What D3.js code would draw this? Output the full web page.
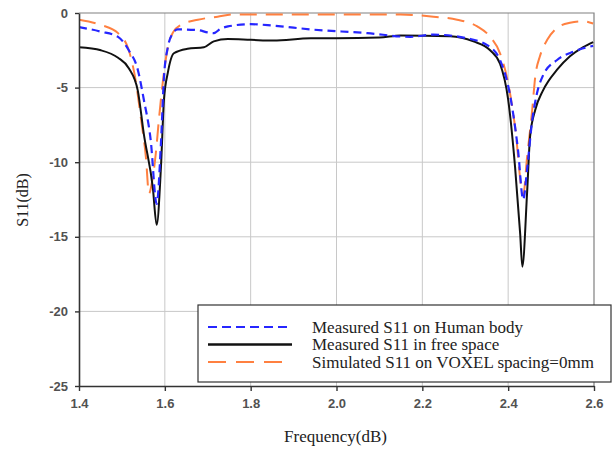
<!DOCTYPE html>
<html><head><meta charset="utf-8">
<script src="https://cdn.jsdelivr.net/npm/d3@7"></script>
<style>
html,body{margin:0;padding:0;background:#fff;}
svg{display:block;}
</style></head>
<body>
<svg id="chart" width="615" height="451"></svg>
<script>
// ---- data ----
const seriesNames = ["Measured S11 on Human body", "Measured S11 in free space", "Simulated S11 on VOXEL spacing=0mm"];
const humanFreq = [1.400,1.451,1.491,1.516,1.537,1.551,1.567,1.581,1.591,1.598,1.607,1.619,1.630,1.677,1.700,1.714,1.730,1.747,1.800,1.853,1.940,2.072,2.172,2.226,2.305,2.351,2.381,2.405,2.423,2.435,2.444,2.456,2.467,2.481,2.514,2.551,2.598];
const humanS11 = [-0.95,-1.25,-1.6,-2.5,-3.8,-5.8,-8.5,-12.8,-8.7,-4.3,-2.3,-1.35,-1.1,-1.15,-1.3,-1.35,-1.05,-0.9,-0.75,-0.85,-1.1,-1.35,-1.6,-1.45,-1.7,-2.15,-3.15,-5.6,-9.2,-12.5,-10.5,-7.2,-5.4,-4.2,-3.15,-2.6,-2.2];
const freeFreq = [1.400,1.451,1.491,1.516,1.537,1.551,1.572,1.581,1.591,1.598,1.607,1.621,1.653,1.691,1.714,1.747,1.800,1.853,1.940,2.000,2.100,2.149,2.265,2.319,2.358,2.381,2.400,2.416,2.428,2.433,2.444,2.451,2.463,2.481,2.514,2.544,2.574,2.598];
const freeS11 = [-2.3,-2.5,-3.0,-3.7,-5.2,-8.1,-11.7,-14.2,-10.3,-5.8,-4.0,-2.7,-2.4,-2.3,-1.9,-1.75,-1.8,-1.85,-1.7,-1.7,-1.65,-1.5,-1.55,-1.9,-2.5,-3.4,-5.8,-10.3,-14.8,-17.0,-12.1,-8.3,-6.5,-5.2,-3.8,-2.9,-2.3,-1.95];
const simFreq = [1.400,1.451,1.491,1.516,1.533,1.544,1.556,1.563,1.572,1.579,1.586,1.595,1.607,1.619,1.637,1.677,1.723,1.760,1.916,2.149,2.226,2.281,2.328,2.358,2.381,2.400,2.416,2.435,2.444,2.456,2.463,2.474,2.491,2.514,2.544,2.574,2.598];
const simS11 = [-0.45,-0.8,-1.35,-2.5,-4.7,-7.0,-9.7,-12.1,-11.0,-9.4,-7.2,-4.7,-2.3,-1.3,-0.8,-0.45,-0.25,-0.1,-0.1,-0.1,-0.25,-0.45,-0.9,-1.6,-2.7,-4.7,-7.6,-12.2,-9.7,-6.5,-4.3,-2.9,-1.8,-1.0,-0.65,-0.55,-0.7];
const xTicks = [1.4,1.6,1.8,2.0,2.2,2.4,2.6];
const xTickLabels = ["1.4","1.6","1.8","2.0","2.2","2.4","2.6"];
const yTicks = [0,-5,-10,-15,-20,-25];
const yTickLabels = ["0","-5","-10","-15","-20","-25"];
const xTitle = "Frequency(dB)";
const yTitle = "S11(dB)";

// ---- layout ----
const L = 79, R = 594, T = 13, B = 386;
const svg = d3.select("#chart");
const x = d3.scaleLinear().domain([1.4, 2.6]).range([L, R]);
const y = d3.scaleLinear().domain([-25, 0]).range([B, T]);

// grid
const grid = svg.append("g");
grid.selectAll("line.v").data(xTicks.slice(1, -1)).join("line")
  .attr("x1", d => x(d)).attr("x2", d => x(d)).attr("y1", T).attr("y2", B)
  .attr("stroke", "#c8c8c8").attr("stroke-width", 1);
grid.selectAll("line.h").data(yTicks.slice(1, -1)).join("line")
  .attr("x1", L).attr("x2", R).attr("y1", d => y(d)).attr("y2", d => y(d))
  .attr("stroke", "#c8c8c8").attr("stroke-width", 1);
// top & right frame
svg.append("path").attr("d", `M${L},${T}H${R}V${B}`).attr("fill", "none")
  .attr("stroke", "#808080").attr("stroke-width", 1.2);

// series
const line = d3.line().x(d => x(d[0])).y(d => y(d[1])).curve(d3.curveMonotoneX);
const series = [
  {f: simFreq, v: simS11, color: "#ff8040", dash: "17,9", w: 2},
  {f: freeFreq, v: freeS11, color: "#111111", dash: null, w: 2},
  {f: humanFreq, v: humanS11, color: "#2626ff", dash: "8,5", w: 2.2}
];
const defs = svg.append("defs");
defs.append("clipPath").attr("id", "clip").append("rect")
  .attr("x", L).attr("y", T - 2).attr("width", R - L).attr("height", B - T + 2);
const lines = svg.append("g").attr("clip-path", "url(#clip)");
series.forEach(s => {
  lines.append("path").datum(s.f.map((f, i) => [f, s.v[i]]))
    .attr("d", line).attr("fill", "none").attr("stroke", s.color)
    .attr("stroke-width", s.w).attr("stroke-dasharray", s.dash)
    .attr("stroke-linejoin", "round");
});

// axes
const tickFont = "Arial, 'Liberation Sans', sans-serif";
const xAxis = svg.append("g").attr("transform", `translate(0,${B})`)
  .call(d3.axisBottom(x).tickValues(xTicks).tickFormat((d, i) => xTickLabels[i]).tickSize(5).tickSizeOuter(0));
const yAxis = svg.append("g").attr("transform", `translate(${L},0)`)
  .call(d3.axisLeft(y).tickValues(yTicks).tickFormat((d, i) => yTickLabels[i]).tickSize(4).tickSizeOuter(0));
[xAxis, yAxis].forEach(a => {
  a.select(".domain").attr("stroke", "#333").attr("stroke-width", 1.6);
  a.selectAll(".tick line").attr("stroke", "#333").attr("stroke-width", 1.4);
  a.selectAll(".tick text").attr("fill", "#333").attr("font-family", tickFont)
    .attr("font-size", 13).attr("font-weight", "bold").attr("opacity", 0.85);
});
xAxis.selectAll(".tick text").attr("dy", "0.71em").attr("y", 13);
yAxis.selectAll(".tick text").attr("x", -11);

// titles
svg.append("text").attr("x", (L + R) / 2 - 1).attr("y", 442).attr("text-anchor", "middle")
  .attr("font-family", "'Liberation Serif','Times New Roman',serif").attr("font-size", 17)
  .attr("fill", "#222").text(xTitle);
svg.append("text").attr("transform", "translate(28,200) rotate(-90)").attr("text-anchor", "middle")
  .attr("font-family", "'Liberation Serif','Times New Roman',serif").attr("font-size", 16)
  .attr("fill", "#222").text(yTitle);

// legend
const lg = svg.append("g");
lg.append("rect").attr("x", 198).attr("y", 305).attr("width", 413).attr("height", 77)
  .attr("fill", "#fff").attr("stroke", "#333").attr("stroke-width", 1.2);
const legendItems = [
  {name: seriesNames[0], color: "#2626ff", dash: "9,5", w: 2.2},
  {name: seriesNames[1], color: "#111111", dash: null, w: 2.4},
  {name: seriesNames[2], color: "#ff8040", dash: "18,10", w: 1.8}
];
legendItems.forEach((d, i) => {
  const yy = 327 + i * 17.5;
  lg.append("line").attr("x1", 208).attr("x2", 292).attr("y1", yy).attr("y2", yy)
    .attr("stroke", d.color).attr("stroke-width", d.w).attr("stroke-dasharray", d.dash);
  lg.append("text").attr("x", 312).attr("y", yy).attr("dy", "0.35em")
    .attr("font-family", "'Liberation Serif','Times New Roman',serif").attr("font-size", 17)
    .attr("fill", "#222").text(d.name);
});
</script>
</body></html>
